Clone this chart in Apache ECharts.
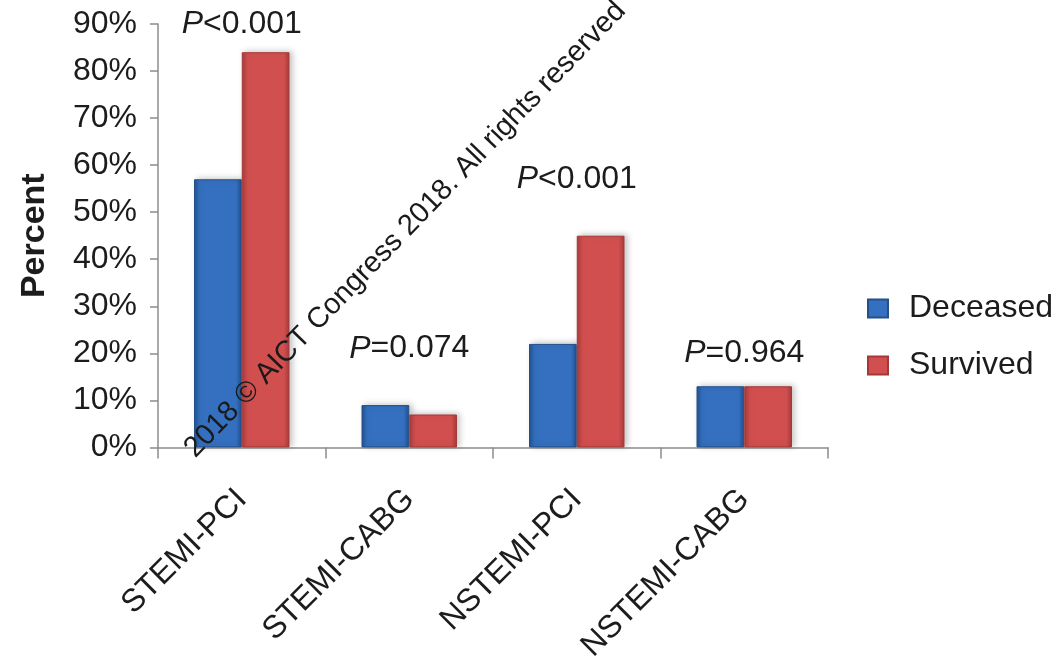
<!DOCTYPE html>
<html>
<head>
<meta charset="utf-8">
<title>Deceased vs Survived by treatment group</title>
<script src="https://cdn.jsdelivr.net/npm/echarts@6/dist/echarts.min.js"></script>
<style>
  html, body { margin: 0; padding: 0; background: #ffffff; }
  #chart { width: 1058px; height: 665px; }
</style>
</head>
<body>
<div id="chart"></div>
<script>
// Treatment groups on the x axis
const categories = ['STEMI-PCI', 'STEMI-CABG', 'NSTEMI-PCI', 'NSTEMI-CABG'];

// Percent of patients per group
const deceased = [57, 9, 22, 13];
const survived = [84, 7, 45, 13];

// Significance annotations and the percent level they sit at
const pValueTexts = ['<0.001', '=0.074', '<0.001', '=0.964'];
const pValueLevels = [90, 21, 57, 20];

// Y axis ticks
const yTicks = [0, 10, 20, 30, 40, 50, 60, 70, 80, 90];

const FONT = '"Liberation Sans", Arial, Helvetica, sans-serif';
const TEXT = '#1c1c1c';
const AXIS = '#8c8c8c';

function barGradient(edge, mid) {
  return new echarts.graphic.LinearGradient(0, 0, 1, 0, [
    { offset: 0, color: edge },
    { offset: 0.12, color: mid },
    { offset: 0.88, color: mid },
    { offset: 1, color: edge }
  ]);
}

const chart = echarts.init(document.getElementById('chart'), null, { renderer: 'canvas' });

const option = {
  backgroundColor: '#ffffff',
  animation: false,
  textStyle: { fontFamily: FONT },
  grid: { left: 158, right: 230, top: 24, bottom: 217, containLabel: false },
  legend: {
    data: ['Deceased', 'Survived'],
    orient: 'vertical',
    left: 862,
    top: 287,
    icon: 'rect',
    itemWidth: 20,
    itemHeight: 18,
    itemGap: 24,
    textStyle: { fontSize: 32, lineHeight: 33, color: TEXT, fontFamily: FONT, padding: [0, 0, 0, 16] }
  },
  xAxis: {
    type: 'category',
    data: categories,
    axisLine: { show: true, lineStyle: { color: AXIS, width: 1.5 } },
    axisTick: { show: true, alignWithLabel: false, length: 11, lineStyle: { color: AXIS, width: 1.5 } },
    axisLabel: {
      rotate: 45,
      margin: 47,
      fontSize: 32,
      color: TEXT,
      fontFamily: FONT
    },
    splitLine: { show: false }
  },
  yAxis: {
    type: 'value',
    min: yTicks[0],
    max: yTicks[yTicks.length - 1],
    interval: yTicks[1] - yTicks[0],
    name: 'Percent',
    nameLocation: 'middle',
    nameRotate: 90,
    nameGap: 106,
    nameTextStyle: { fontSize: 34, fontWeight: 'bold', color: TEXT, fontFamily: FONT },
    axisLine: { show: true, lineStyle: { color: AXIS, width: 1.5 } },
    axisTick: { show: true, length: 8, lineStyle: { color: AXIS, width: 1.5 } },
    axisLabel: {
      formatter: '{value}%',
      fontSize: 32,
      margin: 21,
      color: TEXT,
      fontFamily: FONT
    },
    splitLine: { show: false }
  },
  series: [
    {
      name: 'Deceased',
      type: 'bar',
      data: deceased,
      barGap: '0%',
      barCategoryGap: '43%',
      itemStyle: {
        color: barGradient('#23518f', '#3470bf'),
        borderColor: '#244f88',
        borderWidth: 1,
        shadowColor: 'rgba(0,0,0,0.22)',
        shadowBlur: 6,
        shadowOffsetX: 3,
        shadowOffsetY: -1
      }
    },
    {
      name: 'Survived',
      type: 'bar',
      data: survived,
      barGap: '0%',
      barCategoryGap: '43%',
      itemStyle: {
        color: barGradient('#a83b3b', '#d24f4f'),
        borderColor: '#a43838',
        borderWidth: 1,
        shadowColor: 'rgba(0,0,0,0.22)',
        shadowBlur: 6,
        shadowOffsetX: 3,
        shadowOffsetY: -1
      }
    },
    {
      name: 'P values',
      type: 'scatter',
      symbolSize: 0,
      silent: true,
      itemStyle: { opacity: 1 },
      data: categories.map((c, i) => [c, pValueLevels[i]]),
      label: {
        show: true,
        position: 'inside',
        opacity: 1,
        formatter: (p) => '{i|P}{n|' + pValueTexts[p.dataIndex] + '}',
        rich: {
          i: { fontSize: 32, fontStyle: 'italic', color: TEXT, fontFamily: FONT },
          n: { fontSize: 32, color: TEXT, fontFamily: FONT }
        }
      },
      z: 5
    }
  ],
  graphic: [
    {
      // diagonal copyright line across the plot
      type: 'text',
      silent: true,
      z: 20,
      x: 200,
      y: 463,
      rotation: Math.PI * 46 / 180,
      style: {
        text: '2018 © AICT Congress 2018. All rights reserved',
        fontSize: 29,
        fontFamily: FONT,
        fill: '#1a1a1a',
        textVerticalAlign: 'bottom'
      }
    }
  ]
};

chart.setOption(option);
</script>
</body>
</html>
